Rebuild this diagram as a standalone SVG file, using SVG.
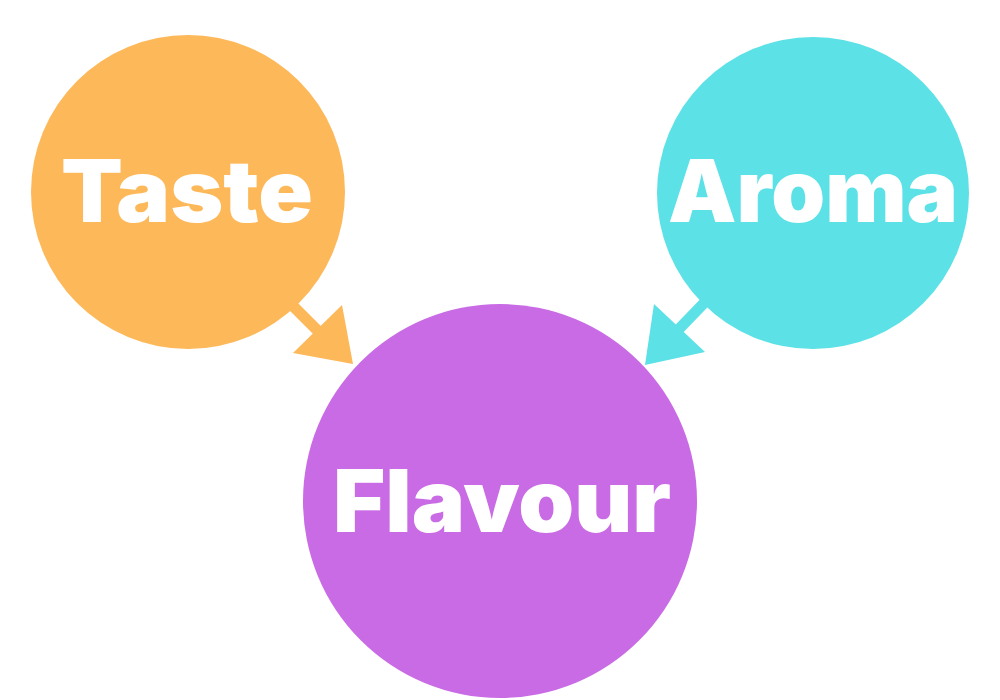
<svg xmlns="http://www.w3.org/2000/svg" width="1000" height="700" viewBox="0 0 1000 700">
<style>
.lbl{font-family:Inter,"Liberation Sans",sans-serif;font-weight:900;font-size:86px;fill:#ffffff;text-anchor:middle}
.shaft{stroke-width:11;stroke-linecap:butt;fill:none}
</style>
<rect width="1000" height="700" fill="#ffffff"/>
<g id="connectors">
<g id="taste-to-flavour">
<line class="shaft" x1="286" y1="299" x2="320" y2="333" stroke="#FDB859"/>
<polygon points="342,305 293,353 353,364" fill="#FDB859"/>
</g>
<g id="aroma-to-flavour">
<line class="shaft" x1="707" y1="300" x2="678" y2="330" stroke="#5CE1E6"/>
<polygon points="654,304 705,352 645,365" fill="#5CE1E6"/>
</g>
</g>
<g id="taste">
<circle cx="188" cy="192" r="157" fill="#FDB859"/>
<text class="lbl" x="187" y="222" textLength="252" lengthAdjust="spacingAndGlyphs">Taste</text>
</g>
<g id="aroma">
<circle cx="813" cy="193" r="156" fill="#5CE1E6"/>
<text class="lbl" x="813" y="222" textLength="290" lengthAdjust="spacingAndGlyphs">Aroma</text>
</g>
<g id="flavour">
<circle cx="500" cy="501" r="197" fill="#C86BE4"/>
<text class="lbl" x="502" y="532" textLength="338" lengthAdjust="spacingAndGlyphs">Flavour</text>
</g>
</svg>
